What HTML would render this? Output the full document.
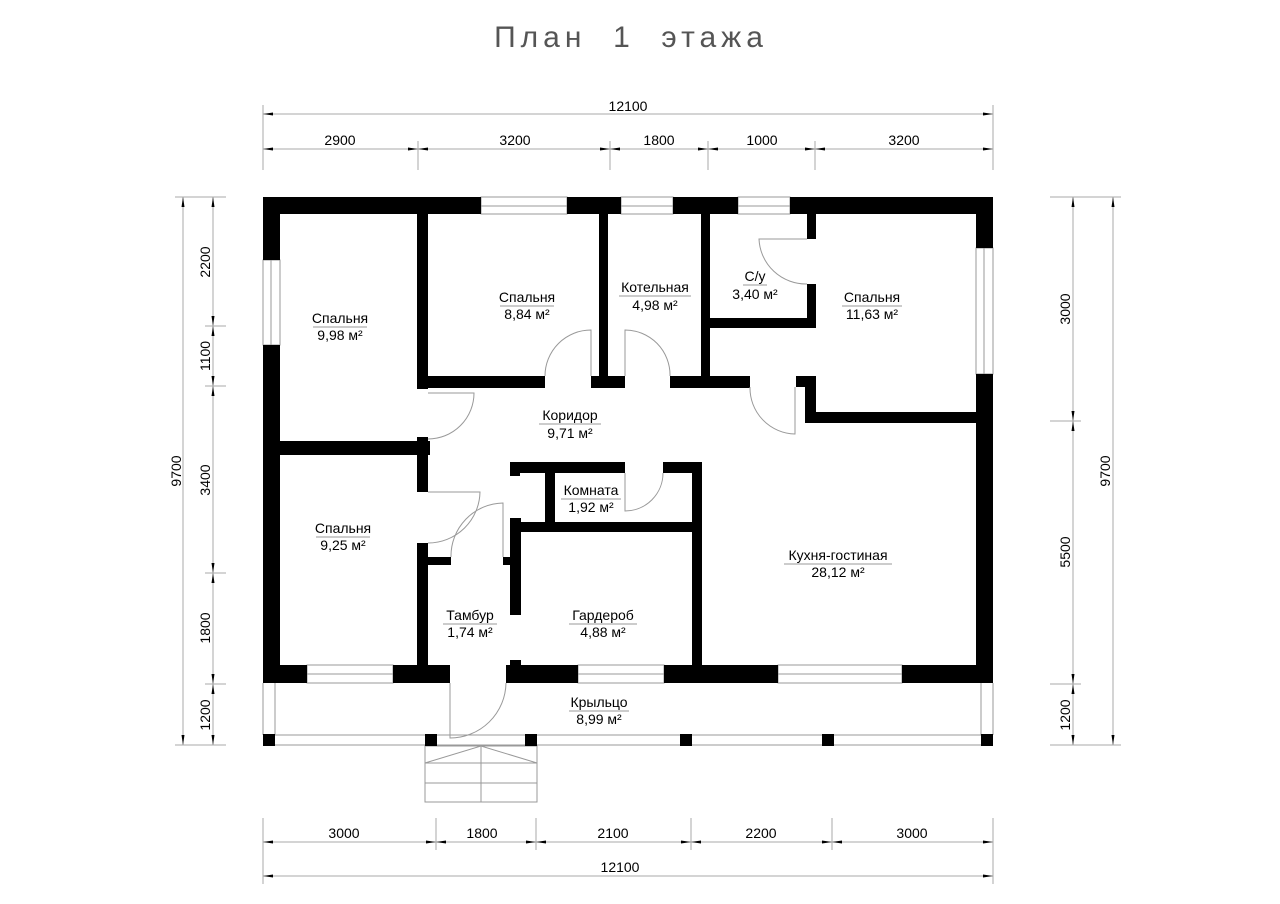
<!DOCTYPE html>
<html><head><meta charset="utf-8"><style>
html,body{margin:0;padding:0;background:#fff;}
svg{display:block;}
text{font-family:"Liberation Sans",sans-serif;}
</style></head><body>
<svg width="1280" height="904" viewBox="0 0 1280 904" xmlns="http://www.w3.org/2000/svg">
<defs>
<marker id="a" viewBox="0 0 10 6" refX="10" refY="3" markerWidth="10" markerHeight="6" markerUnits="userSpaceOnUse" orient="auto-start-reverse"><path d="M0,1.5 L10,3 L0,4.5Z" fill="#000"/></marker>
</defs>
<text x="631" y="47" text-anchor="middle" font-size="30" fill="#555" letter-spacing="5" font-weight="300" xml:space="preserve">План  1  этажа</text>

<g stroke="#aaa" stroke-width="1" fill="none">
<line x1="263" y1="105" x2="263" y2="170"/><line x1="993" y1="105" x2="993" y2="170"/>
<line x1="418" y1="141" x2="418" y2="170"/><line x1="610" y1="141" x2="610" y2="170"/>
<line x1="708" y1="141" x2="708" y2="170"/><line x1="815" y1="141" x2="815" y2="170"/>
<line x1="263" y1="114" x2="993" y2="114" marker-start="url(#a)" marker-end="url(#a)"/>
<line x1="263" y1="149" x2="418" y2="149" marker-start="url(#a)" marker-end="url(#a)"/>
<line x1="418" y1="149" x2="610" y2="149" marker-start="url(#a)" marker-end="url(#a)"/>
<line x1="610" y1="149" x2="708" y2="149" marker-start="url(#a)" marker-end="url(#a)"/>
<line x1="708" y1="149" x2="815" y2="149" marker-start="url(#a)" marker-end="url(#a)"/>
<line x1="815" y1="149" x2="993" y2="149" marker-start="url(#a)" marker-end="url(#a)"/>
<line x1="263" y1="818" x2="263" y2="884"/><line x1="993" y1="818" x2="993" y2="884"/>
<line x1="436" y1="818" x2="436" y2="850"/><line x1="536" y1="818" x2="536" y2="850"/>
<line x1="691" y1="818" x2="691" y2="850"/><line x1="832" y1="818" x2="832" y2="850"/>
<line x1="263" y1="842" x2="436" y2="842" marker-start="url(#a)" marker-end="url(#a)"/>
<line x1="436" y1="842" x2="536" y2="842" marker-start="url(#a)" marker-end="url(#a)"/>
<line x1="536" y1="842" x2="691" y2="842" marker-start="url(#a)" marker-end="url(#a)"/>
<line x1="691" y1="842" x2="832" y2="842" marker-start="url(#a)" marker-end="url(#a)"/>
<line x1="832" y1="842" x2="993" y2="842" marker-start="url(#a)" marker-end="url(#a)"/>
<line x1="263" y1="876" x2="993" y2="876" marker-start="url(#a)" marker-end="url(#a)"/>
<line x1="175" y1="197" x2="226" y2="197"/><line x1="175" y1="745" x2="226" y2="745"/>
<line x1="205" y1="326" x2="226" y2="326"/><line x1="205" y1="386" x2="226" y2="386"/>
<line x1="205" y1="573" x2="226" y2="573"/><line x1="205" y1="684" x2="226" y2="684"/>
<line x1="183" y1="197" x2="183" y2="745" marker-start="url(#a)" marker-end="url(#a)"/>
<line x1="213" y1="197" x2="213" y2="326" marker-start="url(#a)" marker-end="url(#a)"/>
<line x1="213" y1="326" x2="213" y2="386" marker-start="url(#a)" marker-end="url(#a)"/>
<line x1="213" y1="386" x2="213" y2="573" marker-start="url(#a)" marker-end="url(#a)"/>
<line x1="213" y1="573" x2="213" y2="684" marker-start="url(#a)" marker-end="url(#a)"/>
<line x1="213" y1="684" x2="213" y2="745" marker-start="url(#a)" marker-end="url(#a)"/>
<line x1="1050" y1="197" x2="1121" y2="197"/><line x1="1050" y1="745" x2="1121" y2="745"/>
<line x1="1050" y1="421" x2="1081" y2="421"/><line x1="1050" y1="684" x2="1081" y2="684"/>
<line x1="1113" y1="197" x2="1113" y2="745" marker-start="url(#a)" marker-end="url(#a)"/>
<line x1="1073" y1="197" x2="1073" y2="421" marker-start="url(#a)" marker-end="url(#a)"/>
<line x1="1073" y1="421" x2="1073" y2="684" marker-start="url(#a)" marker-end="url(#a)"/>
<line x1="1073" y1="684" x2="1073" y2="745" marker-start="url(#a)" marker-end="url(#a)"/>
</g>
<g font-size="14" fill="#000" text-anchor="middle">
<text x="628" y="111">12100</text>
<text x="340" y="145">2900</text><text x="515" y="145">3200</text><text x="659" y="145">1800</text>
<text x="762" y="145">1000</text><text x="904" y="145">3200</text>
<text x="344" y="838">3000</text><text x="482" y="838">1800</text><text x="613" y="838">2100</text>
<text x="761" y="838">2200</text><text x="912" y="838">3000</text>
<text x="620" y="872">12100</text>
<text transform="translate(210,262) rotate(-90)">2200</text>
<text transform="translate(210,356) rotate(-90)">1100</text>
<text transform="translate(210,480) rotate(-90)">3400</text>
<text transform="translate(210,628) rotate(-90)">1800</text>
<text transform="translate(210,715) rotate(-90)">1200</text>
<text transform="translate(181,471) rotate(-90)">9700</text>
<text transform="translate(1070,309) rotate(-90)">3000</text>
<text transform="translate(1070,552) rotate(-90)">5500</text>
<text transform="translate(1070,715) rotate(-90)">1200</text>
<text transform="translate(1110,471) rotate(-90)">9700</text>
</g>

<g fill="#fff" stroke="#999" stroke-width="1">
<rect x="481" y="197" width="86" height="17"/><line x1="481" y1="206" x2="567" y2="206"/>
<rect x="621" y="197" width="52" height="17"/><line x1="621" y1="206" x2="673" y2="206"/>
<rect x="738" y="197" width="52" height="17"/><line x1="738" y1="206" x2="790" y2="206"/>
<rect x="263" y="260" width="17" height="85"/><line x1="271" y1="260" x2="271" y2="345"/>
<rect x="976" y="248" width="17" height="126"/><line x1="984" y1="248" x2="984" y2="374"/>
<rect x="307" y="665" width="86" height="18"/><line x1="307" y1="674" x2="393" y2="674"/>
<rect x="578" y="665" width="86" height="18"/><line x1="578" y1="674" x2="664" y2="674"/>
<rect x="778" y="665" width="124" height="18"/><line x1="778" y1="674" x2="902" y2="674"/>
<line x1="263" y1="735" x2="993" y2="735"/><line x1="263" y1="745" x2="993" y2="745"/>
<line x1="263" y1="683" x2="263" y2="735"/><line x1="275" y1="683" x2="275" y2="735"/>
<line x1="981" y1="683" x2="981" y2="735"/><line x1="993" y1="683" x2="993" y2="735"/>
<rect x="425" y="746" width="112" height="56"/>
<line x1="425" y1="763" x2="537" y2="763"/><line x1="425" y1="783" x2="537" y2="783"/>
<line x1="481" y1="746" x2="481" y2="802"/>
<polyline points="425,763 481,746 537,763" fill="none"/>
</g>

<g fill="#000">
<rect x="263" y="197" width="218" height="17"/>
<rect x="567" y="197" width="54" height="17"/>
<rect x="673" y="197" width="65" height="17"/>
<rect x="790" y="197" width="203" height="17"/>
<rect x="263" y="197" width="17" height="63"/>
<rect x="263" y="345" width="17" height="338"/>
<rect x="976" y="197" width="17" height="51"/>
<rect x="976" y="374" width="17" height="309"/>
<rect x="263" y="665" width="44" height="18"/>
<rect x="393" y="665" width="57" height="18"/>
<rect x="506" y="665" width="72" height="18"/>
<rect x="664" y="665" width="114" height="18"/>
<rect x="902" y="665" width="91" height="18"/>
<rect x="417" y="214" width="11" height="175"/>
<rect x="417" y="376" width="128" height="12"/>
<rect x="417" y="437" width="11" height="55"/>
<rect x="263" y="441" width="167" height="14"/>
<rect x="599" y="214" width="9" height="162"/>
<rect x="591" y="376" width="34" height="12"/>
<rect x="701" y="214" width="9" height="162"/>
<rect x="670" y="376" width="80" height="12"/>
<rect x="701" y="318" width="115" height="10"/>
<rect x="807" y="214" width="9" height="25"/>
<rect x="807" y="284" width="9" height="44"/>
<rect x="796" y="376" width="20" height="11"/>
<rect x="805" y="376" width="11" height="47"/>
<rect x="805" y="412" width="188" height="11"/>
<rect x="417" y="543" width="11" height="124"/>
<rect x="417" y="557" width="34" height="8"/>
<rect x="510" y="518" width="11" height="97"/>
<rect x="503" y="557" width="18" height="8"/>
<rect x="510" y="660" width="11" height="7"/>
<rect x="510" y="462" width="115" height="11"/>
<rect x="510" y="462" width="10" height="14"/>
<rect x="663" y="462" width="39" height="11"/>
<rect x="545" y="462" width="10" height="62"/>
<rect x="692" y="462" width="10" height="205"/>
<rect x="510" y="522" width="192" height="10"/>
<rect x="263" y="734" width="12" height="12"/>
<rect x="425" y="734" width="12" height="12"/>
<rect x="525" y="734" width="12" height="12"/>
<rect x="680" y="734" width="12" height="12"/>
<rect x="822" y="734" width="12" height="12"/>
<rect x="981" y="734" width="12" height="12"/>
</g>

<g fill="none" stroke="#999" stroke-width="1">
<path d="M428,393 L474,393 A46,46 0 0 1 428,439"/>
<path d="M591,376 L591,330 A46,46 0 0 0 545,376"/>
<path d="M625,376 L625,330 A45,45 0 0 1 670,376"/>
<path d="M807,239 L759,239 A47,47 0 0 0 807,284"/>
<path d="M795,387 L795,434 A46,46 0 0 1 750,387"/>
<path d="M625,473 L625,511 A38,38 0 0 0 663,473"/>
<path d="M428,492 L480,492 A52,52 0 0 1 428,543"/>
<path d="M503,557 L503,503 A53,53 0 0 0 451,557"/>
<path d="M450,683 L450,738 A56,56 0 0 0 506,683"/>
</g>

<g font-size="14" fill="#000" text-anchor="middle">
<g transform="translate(340,0)"><text x="0" y="323">Спальня</text><line x1="-27" y1="327" x2="27" y2="327" stroke="#999"/><text x="0" y="340">9,98 м²</text></g>
<g transform="translate(527,0)"><text x="0" y="302">Спальня</text><line x1="-27" y1="306" x2="27" y2="306" stroke="#999"/><text x="0" y="319">8,84 м²</text></g>
<g transform="translate(655,0)"><text x="0" y="292">Котельная</text><line x1="-36" y1="296" x2="36" y2="296" stroke="#999"/><text x="0" y="310">4,98 м²</text></g>
<g transform="translate(755,0)"><text x="0" y="281">С/у</text><line x1="-12" y1="285" x2="12" y2="285" stroke="#999"/><text x="0" y="299">3,40 м²</text></g>
<g transform="translate(872,0)"><text x="0" y="302">Спальня</text><line x1="-30" y1="306" x2="30" y2="306" stroke="#999"/><text x="0" y="319">11,63 м²</text></g>
<g transform="translate(570,0)"><text x="0" y="420">Коридор</text><line x1="-31" y1="424" x2="31" y2="424" stroke="#999"/><text x="0" y="438">9,71 м²</text></g>
<g transform="translate(591,0)"><text x="0" y="495">Комната</text><line x1="-30" y1="499" x2="30" y2="499" stroke="#999"/><text x="0" y="512">1,92 м²</text></g>
<g transform="translate(343,0)"><text x="0" y="533">Спальня</text><line x1="-27" y1="537" x2="27" y2="537" stroke="#999"/><text x="0" y="550">9,25 м²</text></g>
<g transform="translate(470,0)"><text x="0" y="620">Тамбур</text><line x1="-27" y1="624" x2="27" y2="624" stroke="#999"/><text x="0" y="637">1,74 м²</text></g>
<g transform="translate(603,0)"><text x="0" y="620">Гардероб</text><line x1="-34" y1="624" x2="34" y2="624" stroke="#999"/><text x="0" y="637">4,88 м²</text></g>
<g transform="translate(838,0)"><text x="0" y="560">Кухня-гостиная</text><line x1="-54" y1="564" x2="54" y2="564" stroke="#999"/><text x="0" y="577">28,12 м²</text></g>
<g transform="translate(599,0)"><text x="0" y="707">Крыльцо</text><line x1="-30" y1="711" x2="30" y2="711" stroke="#999"/><text x="0" y="724">8,99 м²</text></g>
</g>
</svg>
</body></html>
